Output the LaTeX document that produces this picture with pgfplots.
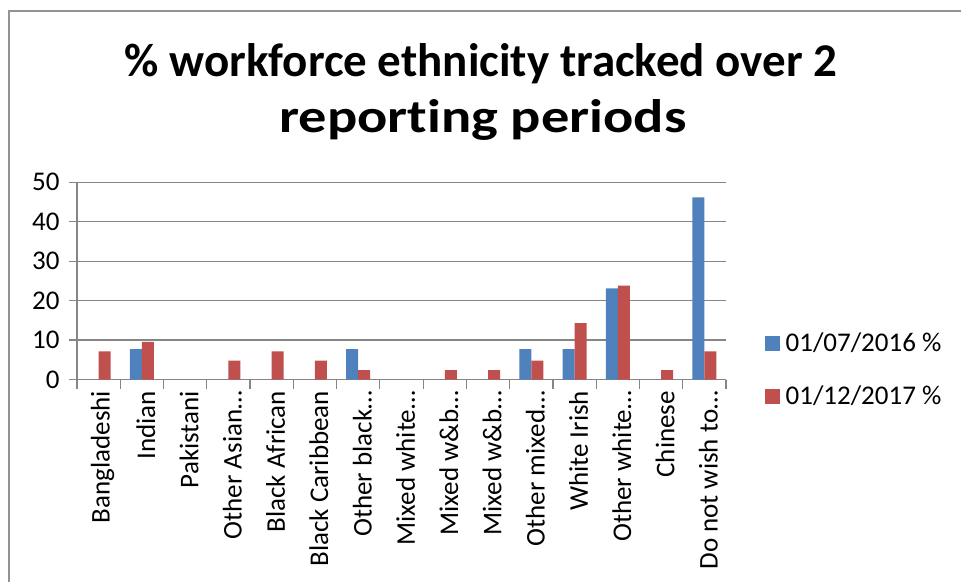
\documentclass[border=0pt]{standalone}
\usepackage{fontspec}
\setmainfont{Carlito}[Ligatures=CommonOff]
\usepackage{graphicx}
\usepackage{pgfplots}
\pgfplotsset{compat=1.18}
\definecolor{sblue}{HTML}{4F81BD}
\definecolor{sred}{HTML}{C0504D}
\definecolor{gridc}{HTML}{868686}
\begin{document}
\begin{tikzpicture}[x=1pt,y=1pt]
\useasboundingbox (0,0) rectangle (961,581);
\fill[white] (0,0) rectangle (961,581);
\draw[color=gridc!90, line width=2.2pt] (9,-5) -- (9,570) -- (970,570);
\node[anchor=base, font=\bfseries\fontsize{47}{56}\selectfont, inner sep=0pt] at (481,504) {\% workforce ethnicity tracked over 2};
\node[anchor=base, font=\bfseries\fontsize{47}{56}\selectfont, inner sep=0pt] at (483,448) {\scalebox{1.2}[1]{reporting periods}};
\begin{axis}[
 at={(77pt,201.5pt)}, anchor=south west,
 scale only axis, width=649pt, height=197.2pt,
 ybar=0pt, bar width=12pt,
 xmin=-0.5, xmax=14.5, ymin=0, ymax=50,
 axis x line*=bottom, axis y line*=left,
 axis line style={gridc, line width=1.2pt, -},
 ymajorgrids, grid style={gridc, line width=1.2pt},
 ytick={0,10,20,30,40,50},
 xtick={0,1,2,3,4,5,6,7,8,9,10,11,12,13,14},
 xticklabels={Bangladeshi, Indian, Pakistani, Other Asian…, Black African, Black Caribbean, Other black…, Mixed white…, Mixed w\&b…, Mixed w\&b…, Other mixed…, White Irish, Other white…, Chinese, Do not wish to…},
 minor xtick={-0.5,0.5,1.5,2.5,3.5,4.5,5.5,6.5,7.5,8.5,9.5,10.5,11.5,12.5,13.5,14.5},
 major x tick style={draw=none},
 minor x tick style={gridc, line width=1.2pt},
 y tick style={gridc, line width=1.2pt},
 tick align=outside, major tick length=8pt, minor tick length=9pt,
 /pgf/number format/assume math mode=true,
 ticklabel style={font=\fontsize{27}{30}\selectfont},
 yticklabel style={xshift=-6pt},
 xticklabel style={xshift=4pt, rotate=90, anchor=east},
 legend style={at={(1.06,0.05)}, anchor=west, draw=none, fill=none, font=\fontsize{27}{30}\selectfont, row sep=22pt, inner sep=0pt, nodes={inner sep=5.5pt}},
 legend cell align=left,
]
\addplot[fill=sblue, draw=none, legend image code/.code={\fill[sblue] (0pt,-7.5pt) rectangle (15pt,7.5pt);}] coordinates {
(0,0) (1,7.69) (2,0) (3,0) (4,0) (5,0) (6,7.69) (7,0) (8,0) (9,0) (10,7.69) (11,7.69) (12,23.08) (13,0) (14,46.15)};
\addplot[fill=sred, draw=none, legend image code/.code={\fill[sred] (0pt,-7.5pt) rectangle (15pt,7.5pt);}] coordinates {
(0,7.14) (1,9.52) (2,0) (3,4.76) (4,7.14) (5,4.76) (6,2.38) (7,0) (8,2.38) (9,2.38) (10,4.76) (11,14.29) (12,23.81) (13,2.38) (14,7.14)};
\legend{01/07/2016 \%, 01/12/2017 \%}
\end{axis}
\end{tikzpicture}
\end{document}
